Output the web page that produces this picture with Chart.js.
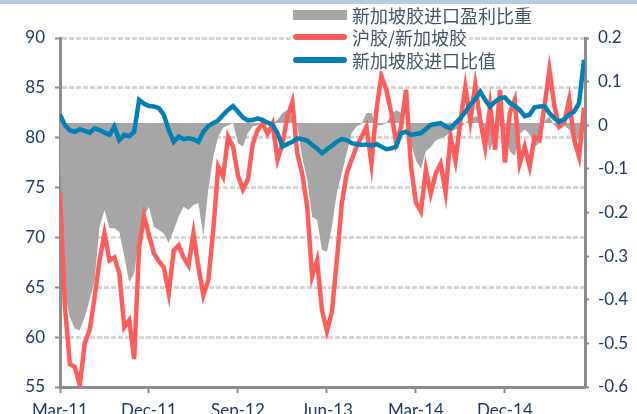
<!DOCTYPE html>
<html>
<head>
<meta charset="utf-8">
<script src="https://cdn.jsdelivr.net/npm/chart.js@4"></script>
<style>
  body { margin: 0; background: #fff; }
  #wrap { position: relative; width: 637px; height: 414px; overflow: hidden; }
  #topbar { position: absolute; left: 0; top: 0; width: 637px; height: 4px; background: #b8cadf; }
  .lg { position: absolute; left: 291px; display: flex; align-items: center; background: #fff;
        font-family: "Noto Sans CJK SC", sans-serif; font-size: 18px; line-height: 22px; color: #44546a; padding-right: 2px; }
  .sym { display: inline-block; width: 54px; margin: 0 5px 0 2px; }
</style>
</head>
<body>
<div id="wrap">
  <canvas id="chart" width="637" height="414"></canvas>
  <div id="topbar"></div>
  <div class="lg" style="top:4px"><span class="sym" style="height:10px;background:#a6a6a6"></span><span>新加坡胶进口盈利比重</span></div>
  <div class="lg" style="top:26px"><span class="sym" style="height:6px;border-radius:3px;background:#ff5c5c"></span><span>沪胶/新加坡胶</span></div>
  <div class="lg" style="top:49px"><span class="sym" style="height:6px;border-radius:3px;background:#0080b4"></span><span>新加坡胶进口比值</span></div>
</div>
<script>
// half-month samples starting Mar-11
const monthStep = 0.5;
const xTickMonths = [0, 9, 18, 27, 36, 45];
const xTickLabels = ['Mar-11', 'Dec-11', 'Sep-12', 'Jun-13', 'Mar-14', 'Dec-14'];

// 沪胶/新加坡胶 (left axis)
const ratioSH = [
  74.5, 63.0, 57.3, 57.0, 55.2, 59.4, 60.7, 64.0, 67.7, 70.4,
  67.7, 68.0, 66.4, 61.0, 61.7, 57.8, 69.0, 72.1, 70.2, 68.4,
  67.6, 67.0, 64.4, 68.7, 69.2, 68.0, 67.2, 70.4, 67.0, 64.2,
  65.7, 70.7, 77.1, 76.1, 80.1, 79.1, 76.2, 74.8, 75.8, 79.4,
  80.8, 81.4, 80.4, 81.4, 77.8, 79.4, 82.1, 83.6, 78.4, 76.4,
  73.1, 66.1, 67.7, 62.7, 60.6, 62.5, 67.7, 73.4, 76.4, 77.8,
  79.1, 80.1, 81.1, 77.4, 82.8, 86.2, 84.8, 82.5, 79.5, 81.1,
  84.8, 77.1, 73.5, 72.6, 76.8, 74.4, 76.4, 77.4, 74.5, 80.1,
  77.7, 81.7, 85.1, 81.7, 85.3, 81.8, 79.1, 83.2, 78.8, 84.8,
  77.5, 82.5, 83.8, 77.4, 79.1, 77.1, 80.1, 79.8, 83.2, 86.8,
  83.2, 81.1, 81.5, 83.8, 79.8, 78.1, 83.0
];

// 新加坡胶进口盈利比重 (right axis, area)
const profitShare = [
  -0.09, -0.385, -0.44, -0.466, -0.47, -0.44, -0.40, -0.355, -0.233, -0.194,
  -0.236, -0.236, -0.244, -0.30, -0.36, -0.34, -0.263, -0.21, -0.187, -0.233,
  -0.24, -0.248, -0.27, -0.24, -0.21, -0.187, -0.194, -0.183, -0.178, -0.255,
  -0.148, -0.072, -0.026, -0.006, 0.0, 0.005, -0.041, -0.049, -0.018, -0.003,
  0.0, 0.005, 0.005, 0.005, 0.012, 0.028, 0.035, 0.02, -0.003, -0.072,
  -0.125, -0.21, -0.217, -0.286, -0.29, -0.233, -0.156, -0.11, -0.064, -0.018,
  -0.003, 0.003, 0.028, 0.028, 0.0, 0.0, 0.005, 0.024, 0.035, 0.028,
  0.0, -0.041, -0.08, -0.1, -0.06, -0.05, -0.035, -0.03, -0.025, -0.015,
  -0.01, -0.005, 0.005, 0.015, 0.02, 0.02, -0.02, -0.06, -0.01, 0.0,
  -0.01, -0.06, -0.07, -0.02, -0.01, -0.02, -0.05, -0.04, 0.01, 0.02,
  0.0, -0.01, 0.0, -0.01, -0.04, -0.03, -0.01
];

// 新加坡胶进口比值 (right axis)
const importRatio = [
  0.024, 0.0, -0.012, -0.015, -0.009, -0.013, -0.017, -0.007, -0.011, -0.017,
  -0.022, -0.003, -0.034, -0.022, -0.025, -0.015, 0.058, 0.049, 0.044, 0.043,
  0.039, 0.024, -0.011, -0.038, -0.026, -0.032, -0.03, -0.032, -0.038, -0.015,
  -0.002, 0.005, 0.011, 0.024, 0.035, 0.044, 0.031, 0.018, 0.011, 0.012,
  0.016, 0.012, 0.006, 0.001, -0.018, -0.049, -0.043, -0.038, -0.03, -0.032,
  -0.035, -0.045, -0.053, -0.064, -0.055, -0.047, -0.038, -0.032, -0.034, -0.041,
  -0.043, -0.045, -0.044, -0.047, -0.043, -0.049, -0.055, -0.053, -0.049, -0.018,
  -0.015, -0.022, -0.02, -0.018, -0.009, 0.001, 0.003, 0.005, -0.003, -0.007,
  0.005, 0.016, 0.031, 0.047, 0.06, 0.077, 0.058, 0.043, 0.054, 0.062,
  0.064, 0.051, 0.044, 0.035, 0.021, 0.024, 0.041, 0.043, 0.044, 0.028,
  0.016, 0.008, 0.014, 0.024, 0.031, 0.051, 0.15
];

function toPoints(values) {
  return values.map((v, i) => ({ x: i * monthStep, y: v }));
}

const axisGray = '#8c8c8c';
const tickFont = { family: 'Lato', size: 17 };
const tickColor = '#1f3864';

new Chart(document.getElementById('chart').getContext('2d'), {
  type: 'line',
  data: {
    datasets: [
      {
        label: '新加坡胶进口比值',
        data: toPoints(importRatio),
        yAxisID: 'y2',
        borderColor: '#0080b4',
        borderWidth: 4.5,
        pointRadius: 0,
        order: 1
      },
      {
        label: '沪胶/新加坡胶',
        data: toPoints(ratioSH),
        yAxisID: 'y',
        borderColor: '#ff5c5c',
        borderWidth: 4.5,
        pointRadius: 0,
        order: 2
      },
      {
        label: '新加坡胶进口盈利比重',
        data: toPoints(profitShare),
        yAxisID: 'y2',
        borderWidth: 0,
        borderColor: 'rgba(0,0,0,0)',
        backgroundColor: '#a6a6a6',
        fill: { value: 0.005 },
        pointRadius: 0,
        order: 3
      }
    ]
  },
  options: {
    responsive: false,
    animation: false,
    devicePixelRatio: 1,
    layout: { padding: { top: 38, left: 0, right: 0, bottom: 0 } },
    plugins: { legend: { display: false }, tooltip: { enabled: false } },
    scales: {
      x: {
        type: 'linear',
        min: 0,
        max: 53.1,
        afterBuildTicks: scale => { scale.ticks = xTickMonths.map(v => ({ value: v })); },
        afterFit: scale => { scale.height = 27; },
        ticks: {
          autoSkip: false,
          maxRotation: 0,
          padding: 7,
          color: tickColor,
          font: tickFont,
          callback: v => xTickLabels[xTickMonths.indexOf(v)]
        },
        grid: { drawOnChartArea: false, tickLength: 6, tickColor: axisGray, tickWidth: 2 },
        border: { color: axisGray, width: 3 }
      },
      y: {
        position: 'left',
        min: 55,
        max: 90,
        afterFit: scale => { scale.width = 60; },
        ticks: { stepSize: 5, padding: 10, color: tickColor, font: tickFont },
        grid: { color: '#d6d6d6', lineWidth: 3, tickLength: 5, tickColor: axisGray, tickWidth: 2 },
        border: { color: axisGray, width: 3, dash: [5, 2] }
      },
      y2: {
        position: 'right',
        min: -0.6,
        max: 0.2,
        afterFit: scale => { scale.width = 52; },
        ticks: {
          stepSize: 0.1,
          padding: 9,
          color: tickColor,
          font: tickFont,
          callback: v => String(Math.round(v * 10) / 10)
        },
        grid: { drawOnChartArea: false, tickLength: 4, tickColor: axisGray, tickWidth: 2 },
        border: { color: axisGray, width: 3 }
      }
    }
  }
});
</script>
</body>
</html>
